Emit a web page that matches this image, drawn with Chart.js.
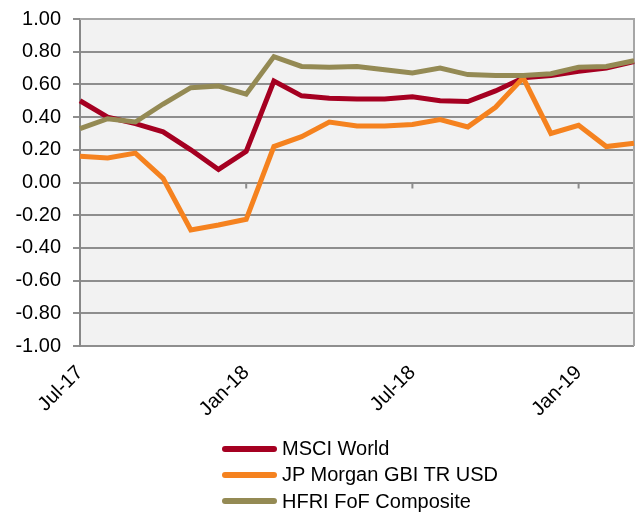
<!DOCTYPE html>
<html>
<head>
<meta charset="utf-8">
<script src="https://cdn.jsdelivr.net/npm/chart.js@4"></script>
<style>
    body { margin: 0; background: #ffffff; }
    #wrap { position: relative; width: 636px; height: 513px; }
    #legenda { position: absolute; left: 222px; top: 435px; font-family: "Liberation Sans", Arial, sans-serif; font-size: 20px; color: #000; }
    .item { height: 26.3px; line-height: 26px; white-space: nowrap; }
    .linha { display: inline-block; width: 55px; height: 6px; border-radius: 3px; vertical-align: middle; margin-right: 5px; position: relative; top: -1px; }
</style>
</head>
<body>
<div id="wrap">
    <canvas id="grafico" width="636" height="513"></canvas>
    <div id="legenda"></div>
</div>
<script>
// Dados do grafico
var meses = ["Jul-17", "Aug-17", "Sep-17", "Oct-17", "Nov-17", "Dec-17", "Jan-18", "Feb-18", "Mar-18", "Apr-18", "May-18",
             "Jun-18", "Jul-18", "Aug-18", "Sep-18", "Oct-18", "Nov-18", "Dec-18", "Jan-19", "Feb-19", "Mar-19"];

var msciWorld = [0.50, 0.40, 0.36, 0.31, 0.20, 0.08, 0.19, 0.62, 0.53, 0.515, 0.51,
                 0.51, 0.525, 0.50, 0.495, 0.56, 0.64, 0.655, 0.68, 0.70, 0.74];
var jpMorgan = [0.16, 0.15, 0.18, 0.025, -0.29, -0.26, -0.225, 0.22, 0.28, 0.37, 0.345,
                0.345, 0.355, 0.385, 0.34, 0.46, 0.64, 0.30, 0.35, 0.22, 0.24];
var hfri = [0.33, 0.39, 0.37, 0.48, 0.58, 0.59, 0.54, 0.77, 0.71, 0.705, 0.71,
            0.69, 0.67, 0.70, 0.66, 0.655, 0.655, 0.665, 0.705, 0.71, 0.745];

var nomes = ["MSCI World", "JP Morgan GBI TR USD", "HFRI FoF Composite"];
var cores = ["#A50021", "#F5821F", "#948A54"];

var fonte = { family: '"Liberation Sans", Arial, sans-serif', size: 20 };

// Fundo cinza da area do grafico, borda e marcas do eixo x no zero
var fundoPlugin = {
    id: 'fundo',
    beforeDraw: function(chart) {
        var a = chart.chartArea;
        var ctx = chart.ctx;
        ctx.save();
        ctx.fillStyle = '#F2F2F2';
        ctx.fillRect(a.left, a.top, a.right - a.left, a.bottom - a.top);
        ctx.restore();
    },
    beforeDatasetsDraw: function(chart) {
        var a = chart.chartArea;
        var ctx = chart.ctx;
        var x = chart.scales.x;
        var y0 = chart.scales.y.getPixelForValue(0);
        ctx.save();
        ctx.strokeStyle = '#A6A6A6';
        ctx.lineWidth = 2;
        ctx.beginPath();
        ctx.moveTo(a.left, a.top);
        ctx.lineTo(a.right, a.top);
        ctx.lineTo(a.right, a.bottom);
        ctx.stroke();
        ctx.strokeStyle = '#8C8C8C';
        ctx.lineWidth = 2;
        for (let i = 0; i < meses.length; i += 6) {
            let px = x.getPixelForValue(i);
            ctx.beginPath();
            ctx.moveTo(px, y0);
            ctx.lineTo(px, y0 + 6);
            ctx.stroke();
        }
        ctx.restore();
    }
};

var series = [msciWorld, jpMorgan, hfri];
var datasets = [];
for (let i = 0; i < series.length; i++) {
    datasets.push({
        label: nomes[i],
        data: series[i],
        borderColor: cores[i],
        backgroundColor: cores[i],
        borderWidth: 5,
        pointRadius: 0,
        tension: 0,
        order: series.length - i
    });
}

new Chart(document.getElementById('grafico'), {
    type: 'line',
    data: { labels: meses, datasets: datasets },
    plugins: [fundoPlugin],
    options: {
        responsive: false,
        animation: false,
        layout: { padding: { top: 19, right: 2, left: 0, bottom: 87 } },
        plugins: { legend: { display: false }, tooltip: { enabled: false } },
        scales: {
            x: {
                grid: { display: false },
                border: { display: false },
                ticks: {
                    autoSkip: false,
                    minRotation: 45,
                    maxRotation: 45,
                    padding: 7,
                    color: '#000',
                    font: fonte,
                    callback: function(v, i) { return i % 6 === 0 ? meses[i] : ''; }
                },
                afterFit: function(s) { s.height = 80; s.paddingLeft = 0; s.paddingRight = 0; }
            },
            y: {
                min: -1,
                max: 1,
                grid: { color: '#8E8E8E', lineWidth: 2, tickLength: 7 },
                border: { color: '#888888', width: 2 },
                ticks: {
                    stepSize: 0.2,
                    padding: 12,
                    color: '#000',
                    font: fonte,
                    callback: function(v) { return v.toFixed(2); }
                },
                afterFit: function(s) { s.width = 80; s.paddingTop = 0; s.paddingBottom = 0; }
            }
        }
    }
});

// Legenda em html, uma serie por linha
var html = '';
for (let i = 0; i < nomes.length; i++) {
    html += '<div class="item"><span class="linha" style="background:' + cores[i] + '"></span>' + nomes[i] + '</div>';
}
document.getElementById('legenda').innerHTML = html;
</script>
</body>
</html>
